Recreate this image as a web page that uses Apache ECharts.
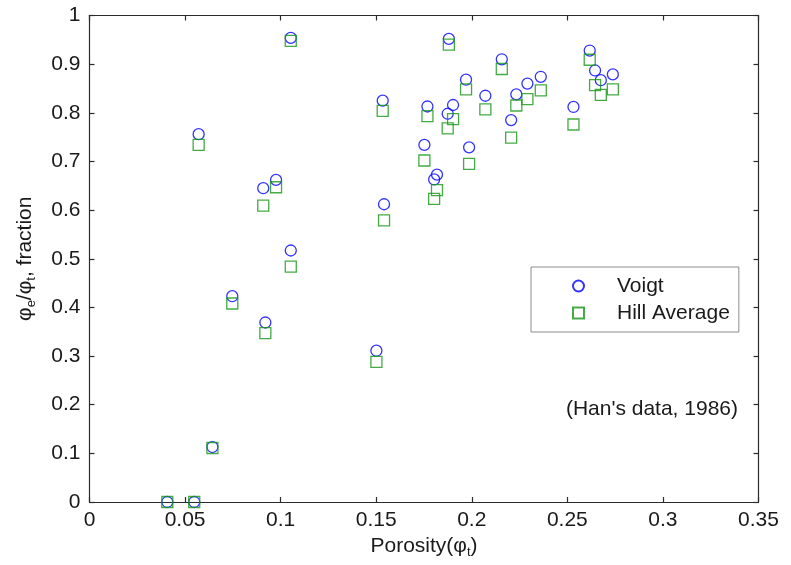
<!DOCTYPE html>
<html>
<head>
<meta charset="utf-8">
<script src="https://cdn.jsdelivr.net/npm/echarts@6/dist/echarts.min.js"></script>
<style>
html, body { margin: 0; padding: 0; background: #fff; }
#main { width: 791px; height: 565px; }
</style>
</head>
<body>
<div id="main"></div>
<script>
// total porosity (x) and phi_e/phi_t for the two averages
var porosity = [0.0407, 0.0548, 0.0571, 0.0643, 0.0747, 0.0909, 0.0920, 0.0976, 0.1053, 0.1053,
    0.1501, 0.1534, 0.1541, 0.1752, 0.1768, 0.1803, 0.1818, 0.1874, 0.1880, 0.1902,
    0.1970, 0.1986, 0.2071, 0.2157, 0.2206, 0.2233, 0.2291, 0.2361, 0.2532, 0.2617,
    0.2645, 0.2675, 0.2738];
var voigt = [0, 0, 0.756, 0.113, 0.423, 0.645, 0.369, 0.662, 0.954, 0.517,
    0.311, 0.825, 0.612, 0.734, 0.813, 0.663, 0.673, 0.798, 0.952, 0.816,
    0.868, 0.729, 0.835, 0.910, 0.785, 0.838, 0.860, 0.874, 0.812, 0.928,
    0.887, 0.867, 0.879];
var hill = [0, 0, 0.734, 0.111, 0.408, 0.609, 0.347, 0.647, 0.948, 0.484,
    0.288, 0.804, 0.579, 0.702, 0.793, 0.623, 0.641, 0.768, 0.940, 0.787,
    0.848, 0.695, 0.807, 0.890, 0.749, 0.815, 0.828, 0.846, 0.776, 0.909,
    0.857, 0.837, 0.848];
var seriesNames = ['Voigt', 'Hill Average'];

function pairs(xs, ys) {
    var out = [];
    for (var i = 0; i < xs.length; i++) {
        out.push([xs[i], ys[i]]);
    }
    return out;
}

var textColor = '#1a1a1a';
var lineColor = '#2b2b2b';
var font = '"Liberation Sans", Arial, sans-serif';
var fs = 21;
var richName = {
    n: { fontSize: fs, fontFamily: font, color: textColor },
    s: { fontSize: 13, fontFamily: font, color: textColor, padding: [12, 0, 0, 0] }
};

var axisCommon = {
    axisLine: { show: true, onZero: false, lineStyle: { color: lineColor, width: 1.2 } },
    axisTick: { show: true, inside: true, length: 5, lineStyle: { color: lineColor, width: 1.2 } },
    splitLine: { show: false }
};

var chart = echarts.init(document.getElementById('main'));
chart.setOption({
    animation: false,
    backgroundColor: '#fff',
    title: {
        text: "(Han's data, 1986)",
        right: 48,
        top: 394,
        textStyle: { fontSize: fs, fontWeight: 'normal', fontFamily: font, color: textColor }
    },
    legend: {
        orient: 'vertical',
        left: 531,
        top: 267,
        data: [
            { name: seriesNames[0], icon: 'circle' },
            { name: seriesNames[1], icon: 'rect' }
        ],
        itemWidth: 11,
        itemHeight: 11,
        itemGap: 3,
        padding: [7, 9, 7, 41],
        borderColor: '#8c8c8c',
        borderWidth: 1,
        backgroundColor: '#fff',
        textStyle: { fontSize: fs, fontFamily: font, color: textColor, padding: [0, 0, 0, 28], lineHeight: 24 }
    },
    grid: { left: 89.5, right: 32.5, top: 15.5, bottom: 63 },
    xAxis: [
        Object.assign({
            type: 'value', min: 0, max: 0.35, interval: 0.05, position: 'bottom',
            name: 'Porosity({n|φ}{s|t}{n|)}',
            nameLocation: 'middle',
            nameGap: 32,
            nameTextStyle: { fontSize: fs, fontFamily: font, color: textColor, rich: richName },
            axisLabel: { fontSize: fs, fontFamily: font, color: textColor, margin: 8 }
        }, axisCommon),
        Object.assign({
            type: 'value', min: 0, max: 0.35, interval: 0.05, position: 'top',
            axisLabel: { show: false }
        }, axisCommon)
    ],
    yAxis: [
        Object.assign({
            type: 'value', min: 0, max: 1, interval: 0.1, position: 'left',
            name: '{n|φ}{s|e}{n|/φ}{s|t}{n|, fraction}',
            nameLocation: 'middle',
            nameGap: 52,
            nameTextStyle: { fontSize: fs, fontFamily: font, color: textColor, rich: richName },
            axisLabel: { fontSize: fs, fontFamily: font, color: textColor, margin: 9 }
        }, axisCommon),
        Object.assign({
            type: 'value', min: 0, max: 1, interval: 0.1, position: 'right',
            axisLabel: { show: false }
        }, axisCommon)
    ],
    series: [
        {
            name: seriesNames[0],
            type: 'scatter',
            symbol: 'circle',
            symbolSize: 11,
            itemStyle: { color: 'rgba(0,0,0,0)', borderColor: '#0000ff', borderWidth: 1.3 },
            data: pairs(porosity, voigt)
        },
        {
            name: seriesNames[1],
            type: 'scatter',
            symbol: 'rect',
            symbolSize: 11,
            itemStyle: { color: 'rgba(0,0,0,0)', borderColor: '#159615', borderWidth: 1.3 },
            data: pairs(porosity, hill)
        }
    ]
});
</script>
</body>
</html>
